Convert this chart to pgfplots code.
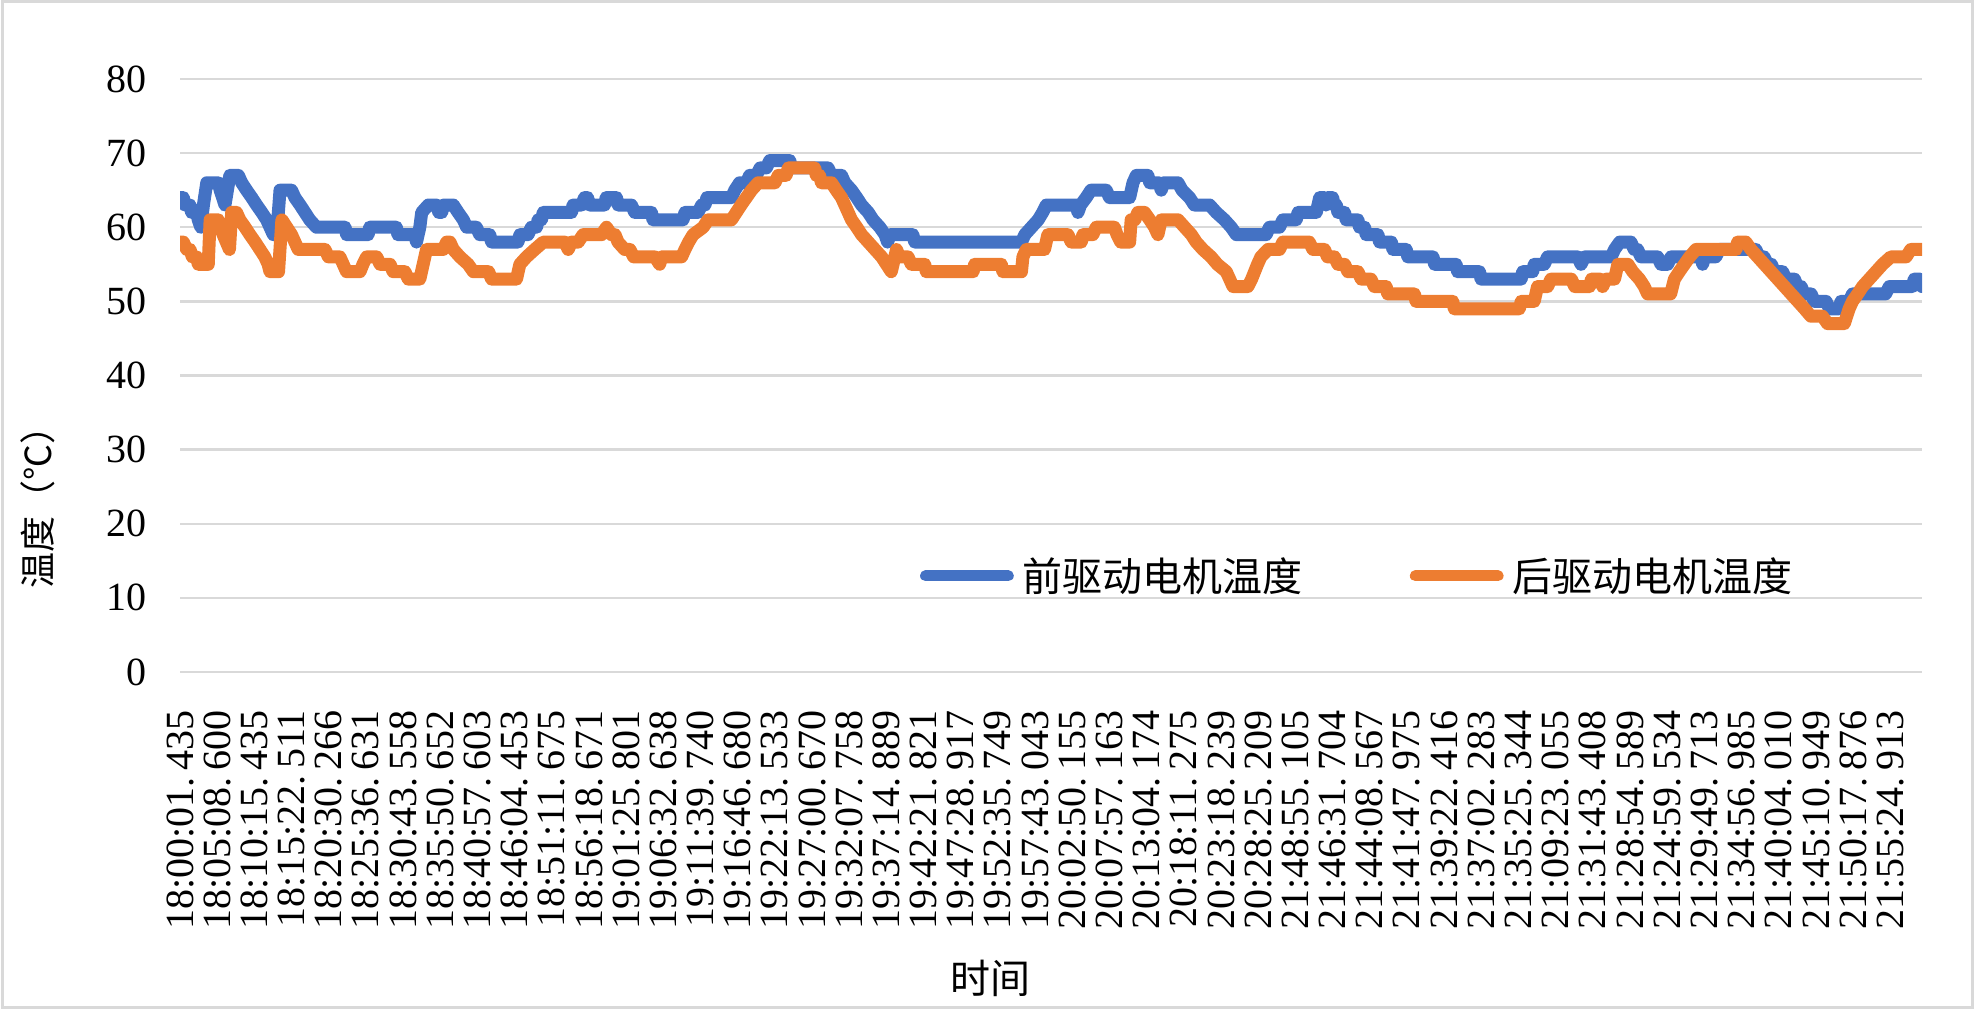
\documentclass[border=0pt]{standalone}
\usepackage{fontspec}
\setmainfont{Liberation Serif}
\newfontfamily\cjk{Noto Sans CJK SC}
\usepackage{pgfplots}
\pgfplotsset{compat=1.18}
\definecolor{bluel}{HTML}{4472C4}
\definecolor{orangel}{HTML}{ED7D31}
\definecolor{gridg}{HTML}{D9D9D9}
\begin{document}
\begin{tikzpicture}
\path[use as bounding box] (0,0) rectangle (988pt,505.5pt);
\draw[gridg, line width=1.5pt] (1pt,1.5pt) rectangle (986pt,504.5pt);
\begin{axis}[
  at={(90pt,169.5pt)}, anchor=south west,
  scale only axis, width=871pt, height=296.5pt,
  xmin=0, xmax=46.85, ymin=0, ymax=80,
  axis line style={draw=none},
  major tick length=0pt,
  ytick={0,10,...,80},
  xtick={0,1,...,46},
  xticklabels={{18:00:01.\,435},{18:05:08.\,600},{18:10:15.\,435},{18:15:22.\,511},{18:20:30.\,266},{18:25:36.\,631},{18:30:43.\,558},{18:35:50.\,652},{18:40:57.\,603},{18:46:04.\,453},{18:51:11.\,675},{18:56:18.\,671},{19:01:25.\,801},{19:06:32.\,638},{19:11:39.\,740},{19:16:46.\,680},{19:22:13.\,533},{19:27:00.\,670},{19:32:07.\,758},{19:37:14.\,889},{19:42:21.\,821},{19:47:28.\,917},{19:52:35.\,749},{19:57:43.\,043},{20:02:50.\,155},{20:07:57.\,163},{20:13:04.\,174},{20:18:11.\,275},{20:23:18.\,239},{20:28:25.\,209},{21:48:55.\,105},{21:46:31.\,704},{21:44:08.\,567},{21:41:47.\,975},{21:39:22.\,416},{21:37:02.\,283},{21:35:25.\,344},{21:09:23.\,055},{21:31:43.\,408},{21:28:54.\,589},{21:24:59.\,534},{21:29:49.\,713},{21:34:56.\,985},{21:40:04.\,010},{21:45:10.\,949},{21:50:17.\,876},{21:55:24.\,913}},
  ymajorgrids, grid style={gridg, line width=1.2pt},
  /pgf/number format/assume math mode=true,
  ticklabel style={font=\fontsize{20}{24}\selectfont},
  yticklabel style={anchor=east, inner sep=0pt, xshift=-16.5pt},
  xticklabel style={yshift=-19pt, rotate=90, anchor=east, inner sep=0pt},
  xlabel={\cjk 时间},
  xlabel style={at={(axis description cs:0.465,-0.516)}, anchor=center, font=\fontsize{20}{24}\selectfont},
  ylabel={\cjk 温度（℃）},
  ylabel style={at={(axis description cs:-0.0815,0.292)}, anchor=center, font=\fontsize{18}{22}\selectfont},
  legend style={at={(axis description cs:0.4248,0.162)}, anchor=west, draw=none, fill=none,
    inner sep=0pt, outer sep=0pt, font=\cjk\fontsize{20}{24}\selectfont,
    nodes={inner sep=0pt},
    /tikz/every odd column/.append style={column sep=4.5pt},
    /tikz/every even column/.append style={column sep=53.5pt}},
  legend columns=2,
  legend cell align=left,
  legend image code/.code={\draw[#1, line width=5.5pt, line cap=round] (2.8pt,0pt) -- (44.2pt,0pt);},
]
\addplot[bluel, line width=6.5pt, line join=round, line cap=round] coordinates {
(0,64)(0.09,64)(0.13,63)(0.27,63)(0.31,62)(0.45,62)(0.49,61)(0.56,60)(0.63,63)(0.72,66)(1.03,66)(1.08,65)(1.21,63)(1.34,67)(1.57,67)(1.66,66)(1.79,65)(1.93,64)(2.06,63)(2.20,62)(2.33,61)(2.42,60)(2.51,59)(2.60,59)(2.69,65)(3.00,65)(3.09,64)(3.23,63)(3.36,62)(3.49,61)(3.67,60)(4.44,60)(4.48,59)(5.06,59)(5.10,60)(5.82,60)(5.86,59)(6.32,59)(6.36,58)(6.45,60)(6.50,62)(6.68,63)(6.90,63)(6.96,62)(7.04,62)(7.08,63)(7.35,63)(7.48,62)(7.62,61)(7.71,60)(7.97,60)(8.06,59)(8.33,59)(8.38,58)(9.09,58)(9.14,59)(9.36,59)(9.45,60)(9.59,60)(9.63,61)(9.72,61)(9.77,62)(10.53,62)(10.57,63)(10.80,63)(10.88,64)(10.96,64)(11.02,63)(11.42,63)(11.46,64)(11.74,64)(11.78,63)(12.14,63)(12.23,62)(12.68,62)(12.72,61)(13.53,61)(13.58,62)(13.93,62)(14.03,63)(14.12,63)(14.17,64)(14.83,64)(14.92,65)(15.05,66)(15.23,66)(15.32,67)(15.50,67)(15.60,68)(15.77,68)(15.86,69)(16.40,69)(16.45,68)(17.43,68)(17.52,67)(17.79,67)(17.88,66)(18.06,65)(18.20,64)(18.33,63)(18.51,62)(18.64,61)(18.82,60)(18.96,59)(19.03,58)(19.10,59)(19.71,59)(19.76,58)(22.63,58)(22.72,59)(22.90,60)(23.08,61)(23.20,62)(23.30,63)(24.10,63)(24.15,62)(24.22,63)(24.37,64)(24.50,65)(24.91,65)(25.00,64)(25.54,64)(25.63,66)(25.72,67)(26.03,67)(26.08,66)(26.33,66)(26.39,65)(26.45,66)(26.84,66)(26.95,65)(27.15,64)(27.28,63)(27.69,63)(27.87,62)(28.09,61)(28.27,60)(28.41,59)(29.21,59)(29.30,60)(29.57,60)(29.66,61)(30.02,61)(30.07,62)(30.56,62)(30.65,64)(30.78,64)(30.82,63)(30.86,64)(31.00,64)(31.04,63)(31.10,63)(31.14,62)(31.32,62)(31.36,61)(31.68,61)(31.72,60)(31.86,60)(31.90,59)(32.22,59)(32.26,58)(32.58,58)(32.62,57)(32.98,57)(33.02,56)(33.70,56)(33.74,55)(34.32,55)(34.36,54)(34.95,54)(34.99,53)(36.07,53)(36.11,54)(36.38,54)(36.42,55)(36.69,55)(36.78,56)(37.59,56)(37.68,55)(37.78,56)(38.49,56)(38.58,57)(38.72,58)(39.02,58)(39.11,57)(39.20,57)(39.29,56)(39.74,56)(39.83,55)(40.01,55)(40.10,56)(40.91,56)(40.95,55)(41.00,56)(41.30,56)(41.40,57)(42.38,57)(42.47,56)(42.60,56)(42.70,55)(42.80,55)(42.88,54)(43.10,54)(43.19,53)(43.42,53)(43.50,52)(43.60,52)(43.68,51)(43.87,51)(43.95,50)(44.27,50)(44.36,49)(44.62,49)(44.67,50)(44.89,50)(44.98,51)(45.87,51)(45.97,52)(46.59,52)(46.64,53)(46.80,53)(46.85,52)
};
\addlegendentry{前驱动电机温度}
\addplot[orangel, line width=6.5pt, line join=round, line cap=round] coordinates {
(0,58)(0.09,58)(0.18,57)(0.27,57)(0.33,56)(0.45,56)(0.49,55)(0.76,55)(0.81,61)(1.03,61)(1.08,60)(1.16,59)(1.33,57)(1.39,62)(1.52,62)(1.61,61)(1.75,60)(1.88,59)(2.02,58)(2.15,57)(2.28,56)(2.37,55)(2.42,54)(2.65,54)(2.74,61)(2.87,60)(3.00,59)(3.09,58)(3.18,57)(3.90,57)(3.99,56)(4.30,56)(4.39,55)(4.48,54)(4.84,54)(4.92,55)(5.02,56)(5.29,56)(5.38,55)(5.65,55)(5.73,54)(6.05,54)(6.14,53)(6.45,53)(6.63,57)(7.08,57)(7.17,58)(7.26,58)(7.35,57)(7.53,56)(7.75,55)(7.89,54)(8.30,54)(8.38,53)(9.05,53)(9.14,55)(9.32,56)(9.54,57)(9.77,58)(10.35,58)(10.44,57)(10.53,58)(10.71,58)(10.84,59)(11.34,59)(11.47,60)(11.60,59)(11.70,59)(11.78,58)(11.96,57)(12.10,57)(12.20,56)(12.77,56)(12.90,55)(12.95,56)(13.49,56)(13.58,57)(13.68,58)(13.80,59)(14.07,60)(14.20,61)(14.83,61)(14.96,62)(15.09,63)(15.23,64)(15.37,65)(15.55,66)(16.00,66)(16.09,67)(16.30,67)(16.36,68)(17.07,68)(17.11,67)(17.20,67)(17.25,66)(17.52,66)(17.65,65)(17.79,64)(17.88,63)(17.97,62)(18.06,61)(18.20,60)(18.33,59)(18.51,58)(18.69,57)(18.87,56)(19.00,55)(19.13,54)(19.27,57)(19.35,56)(19.58,56)(19.67,55)(20.03,55)(20.07,54)(21.33,54)(21.37,55)(22.09,55)(22.13,54)(22.63,54)(22.67,56)(22.76,57)(23.25,57)(23.34,59)(23.88,59)(23.97,58)(24.24,58)(24.28,59)(24.55,59)(24.64,60)(25.13,60)(25.20,59)(25.30,58)(25.54,58)(25.58,61)(25.68,61)(25.76,62)(25.94,62)(26.08,61)(26.21,60)(26.30,59)(26.39,61)(26.84,61)(27.02,60)(27.20,59)(27.33,58)(27.51,57)(27.73,56)(27.90,55)(28.14,54)(28.23,53)(28.32,52)(28.72,52)(28.82,53)(28.90,54)(28.98,55)(29.07,56)(29.26,57)(29.57,57)(29.66,58)(30.37,58)(30.47,57)(30.78,57)(30.86,56)(31.05,56)(31.14,55)(31.32,55)(31.41,54)(31.68,54)(31.77,53)(32.03,53)(32.12,52)(32.44,52)(32.48,51)(33.20,51)(33.24,50)(34.23,50)(34.27,49)(36.02,49)(36.07,50)(36.42,50)(36.51,52)(36.78,52)(36.87,53)(37.42,53)(37.51,52)(37.91,52)(37.96,53)(38.20,53)(38.26,52)(38.35,53)(38.58,53)(38.67,55)(38.94,55)(39.07,54)(39.25,53)(39.38,52)(39.47,51)(40.09,51)(40.19,53)(40.32,54)(40.46,55)(40.60,56)(40.77,57)(41.85,57)(41.89,58)(42.11,58)(42.25,57)(42.43,56)(42.61,55)(42.79,54)(42.97,53)(43.15,52)(43.33,51)(43.51,50)(43.69,49)(43.86,48)(44.17,48)(44.31,47)(44.76,47)(44.89,49)(44.98,50)(45.12,51)(45.25,52)(45.43,53)(45.61,54)(45.79,55)(46.01,56)(46.42,56)(46.55,57)(46.85,57)
};
\addlegendentry{后驱动电机温度}
\end{axis}
\end{tikzpicture}
\end{document}
